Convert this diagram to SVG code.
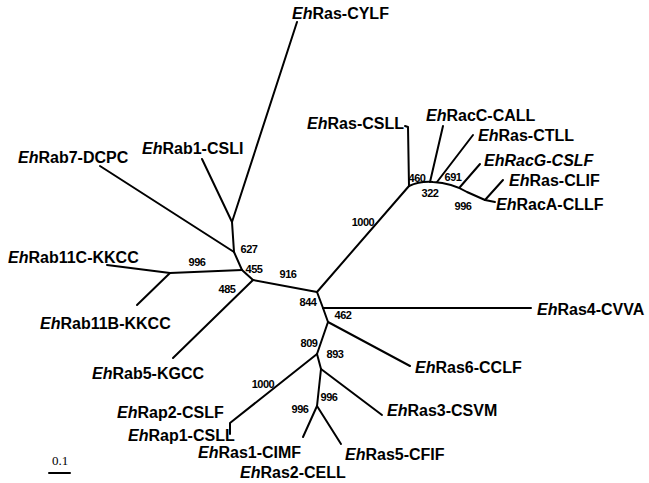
<svg xmlns="http://www.w3.org/2000/svg" width="649" height="483" viewBox="0 0 649 483">
<style>
.e{stroke:#000;stroke-width:2;fill:none;stroke-linecap:round;stroke-linejoin:round}
.l{font-family:"Liberation Sans",Arial,sans-serif;font-weight:bold;font-size:16px;fill:#000}
.i{font-style:italic}
.n{font-family:"Liberation Sans",Arial,sans-serif;font-weight:bold;font-size:11px;fill:#000;text-anchor:middle;letter-spacing:-0.5px}
.s{font-family:"Liberation Serif","Times New Roman",serif;font-size:13px;fill:#000;text-anchor:middle}
</style>
<rect width="649" height="483" fill="#fff"/>
<g id="connectors">
<path class="e" d="M297,22 L232,222"/>
<path class="e" d="M202,159 L232,222"/>
<path class="e" d="M232,222 L234,252"/>
<path class="e" d="M100,166 L234,252"/>
<path class="e" d="M234,252 L242,270"/>
<path class="e" d="M242,270 L170,273 L107,265"/>
<path class="e" d="M170,273 L137,305"/>
<path class="e" d="M242,270 L253,280"/>
<path class="e" d="M253,280 L173,358"/>
<path class="e" d="M253,280 L317,292"/>
<path class="e" d="M317,292 L409,186"/>
<path class="e" d="M317,292 L323,308"/>
<path class="e" d="M323,308 L531,308"/>
<path class="e" d="M323,308 L328,322"/>
<path class="e" d="M328,322 L410,366"/>
<path class="e" d="M328,322 L317,354"/>
<path class="e" d="M317,354 L230,423 L230,434"/>
<path class="e" d="M317,354 L321,369"/>
<path class="e" d="M321,369 L382,415"/>
<path class="e" d="M321,369 L317,406"/>
<path class="e" d="M317,406 L303,437"/>
<path class="e" d="M317,406 L341,444"/>
<path class="e" d="M409,186 L408,127 L405,126"/>
<path class="e" d="M409,186 Q420,181 433,182 Q452,183 467,192 L485,200"/>
<path class="e" d="M430,182 L443,126"/>
<path class="e" d="M437,182 L473,135"/>
<path class="e" d="M460,187 L480,164"/>
<path class="e" d="M485,200 L503,180"/>
<path class="e" d="M485,200 L495,202"/>
<path class="e" d="M49,473 L70,473"/>
</g>
<g id="bootstrap">
<text class="n" x="249" y="253">627</text>
<text class="n" x="254" y="273">455</text>
<text class="n" x="288" y="278">916</text>
<text class="n" x="197" y="266">996</text>
<text class="n" x="227" y="293">485</text>
<text class="n" x="308" y="306">844</text>
<text class="n" x="343" y="319">462</text>
<text class="n" x="309" y="347">809</text>
<text class="n" x="335" y="358">893</text>
<text class="n" x="263" y="388">1000</text>
<text class="n" x="329" y="401">996</text>
<text class="n" x="300" y="413">996</text>
<text class="n" x="363" y="226">1000</text>
<text class="n" x="417" y="182">460</text>
<text class="n" x="430" y="197">322</text>
<text class="n" x="453" y="181">691</text>
<text class="n" x="463" y="210">996</text>
</g>
<g id="n-ras-cylf"><text class="l" x="292" y="19"><tspan class="i">Eh</tspan>Ras-CYLF</text></g>
<g id="n-rab7"><text class="l" x="18" y="163"><tspan class="i">Eh</tspan>Rab7-DCPC</text></g>
<g id="n-rab1"><text class="l" x="142" y="154"><tspan class="i">Eh</tspan>Rab1-CSLI</text></g>
<g id="n-rab11c"><text class="l" x="8" y="263"><tspan class="i">Eh</tspan>Rab11C-KKCC</text></g>
<g id="n-rab11b"><text class="l" x="40" y="329"><tspan class="i">Eh</tspan>Rab11B-KKCC</text></g>
<g id="n-rab5"><text class="l" x="92" y="379"><tspan class="i">Eh</tspan>Rab5-KGCC</text></g>
<g id="n-rap2"><text class="l" x="117" y="418"><tspan class="i">Eh</tspan>Rap2-CSLF</text></g>
<g id="n-rap1"><text class="l" x="128" y="441"><tspan class="i">Eh</tspan>Rap1-CSLL</text></g>
<g id="n-ras1"><text class="l" x="198" y="458"><tspan class="i">Eh</tspan>Ras1-CIMF</text></g>
<g id="n-ras2"><text class="l" x="240" y="478"><tspan class="i">Eh</tspan>Ras2-CELL</text></g>
<g id="n-ras5"><text class="l" x="345" y="460"><tspan class="i">Eh</tspan>Ras5-CFIF</text></g>
<g id="n-ras3"><text class="l" x="387" y="416"><tspan class="i">Eh</tspan>Ras3-CSVM</text></g>
<g id="n-ras6"><text class="l" x="415" y="373"><tspan class="i">Eh</tspan>Ras6-CCLF</text></g>
<g id="n-ras4"><text class="l" x="537" y="315"><tspan class="i">Eh</tspan>Ras4-CVVA</text></g>
<g id="n-ras-csll"><text class="l" x="404" y="129" text-anchor="end"><tspan class="i">Eh</tspan>Ras-CSLL</text></g>
<g id="n-racc"><text class="l" x="426" y="121"><tspan class="i">Eh</tspan>RacC-CALL</text></g>
<g id="n-ras-ctll"><text class="l" x="478" y="141"><tspan class="i">Eh</tspan>Ras-CTLL</text></g>
<g id="n-racg"><text class="l i" x="484" y="166">EhRacG-CSLF</text></g>
<g id="n-ras-clif"><text class="l" x="509" y="186"><tspan class="i">Eh</tspan>Ras-CLIF</text></g>
<g id="n-raca"><text class="l" x="496" y="210"><tspan class="i">Eh</tspan>RacA-CLLF</text></g>
<g id="scale"><text class="s" x="60" y="465">0.1</text></g>
</svg>
